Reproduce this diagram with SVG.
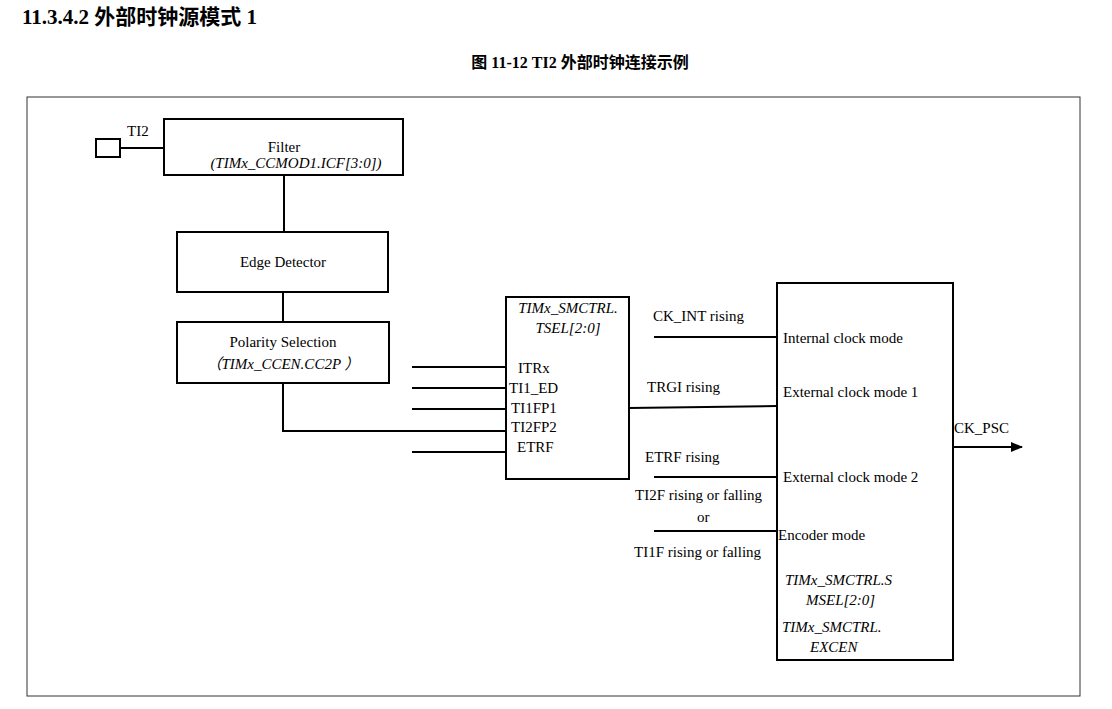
<svg xmlns="http://www.w3.org/2000/svg" width="1112" height="709" viewBox="0 0 1112 709">
<style>
text{font-family:"Liberation Serif","Noto Sans CJK SC",serif;font-size:15px;fill:#000}
.i{font-style:italic}
.b{stroke:#000;stroke-width:2;fill:#fff}
.l{stroke:#000;stroke-width:2;fill:none}
</style>
<defs><marker id="a" markerWidth="12" markerHeight="10" refX="11" refY="5" orient="auto" markerUnits="userSpaceOnUse"><path d="M0,0L12,5L0,10z" fill="#000"/></marker></defs>
<rect width="1112" height="709" fill="#fff"/>
<text x="22" y="24" style="font-size:21px;font-weight:bold">11.3.4.2 外部时钟源模式 1</text>
<text x="580" y="68" text-anchor="middle" style="font-weight:bold;font-size:16px">图 11-12 TI2  外部时钟连接示例</text>
<rect x="27" y="97" width="1053" height="599" fill="none" stroke="#333" stroke-width="1"/>
<g id="connectors">
<path class="l" d="M120,148H164"/>
<path class="l" d="M284,175V232"/>
<path class="l" d="M283,292V322"/>
<path class="l" d="M283,383V431H506"/>
<path class="l" d="M412,367H506M412,388H506M412,409H506M412,452H506"/>
<path class="l" d="M629,408L777,406"/>
<path class="l" d="M654,337H777M654,477H777M654,531H777"/>
<path class="l" d="M953,447H1022" marker-end="url(#a)"/>
</g>
<g id="ti2"><rect class="b" x="96" y="139" width="24" height="18"/><text x="127" y="136">TI2</text></g>
<g id="filter"><rect class="b" x="164" y="119" width="239" height="56"/><text x="284" y="152" text-anchor="middle">Filter</text><text class="i" x="296" y="168" text-anchor="middle">(TIMx_CCMOD1.ICF[3:0])</text></g>
<g id="edge"><rect class="b" x="177" y="232" width="211" height="60"/><text x="283" y="267" text-anchor="middle">Edge Detector</text></g>
<g id="polarity"><rect class="b" x="177" y="322" width="212" height="61"/><text x="283" y="347" text-anchor="middle">Polarity Selection</text><text class="i" x="283" y="369" text-anchor="middle">（TIMx_CCEN.CC2P ）</text></g>
<g id="tsel"><rect class="b" x="506" y="297" width="123" height="182"/><text class="i" x="568" y="313" text-anchor="middle">TIMx_SMCTRL.</text><text class="i" x="568" y="333" text-anchor="middle">TSEL[2:0]</text>
<text x="518" y="373">ITRx</text><text x="509" y="393">TI1_ED</text><text x="511" y="413">TI1FP1</text><text x="511" y="432">TI2FP2</text><text x="517" y="452">ETRF</text></g>
<g id="mode"><rect class="b" x="777" y="283" width="176" height="377"/>
<text x="783" y="343">Internal clock mode</text><text x="783" y="397">External clock mode 1</text><text x="783" y="482">External clock mode 2</text><text x="778" y="540">Encoder mode</text>
<text class="i" x="785" y="585">TIMx_SMCTRL.S</text><text class="i" x="806" y="605">MSEL[2:0]</text><text class="i" x="782" y="632">TIMx_SMCTRL.</text><text class="i" x="810" y="652">EXCEN</text></g>
<g id="labels"><text x="653" y="321">CK_INT rising</text><text x="647" y="392">TRGI rising</text><text x="645" y="462">ETRF rising</text><text x="635" y="500">TI2F rising or falling</text><text x="697" y="522">or</text><text x="634" y="557">TI1F rising or falling</text><text x="954" y="433">CK_PSC</text></g>
</svg>
